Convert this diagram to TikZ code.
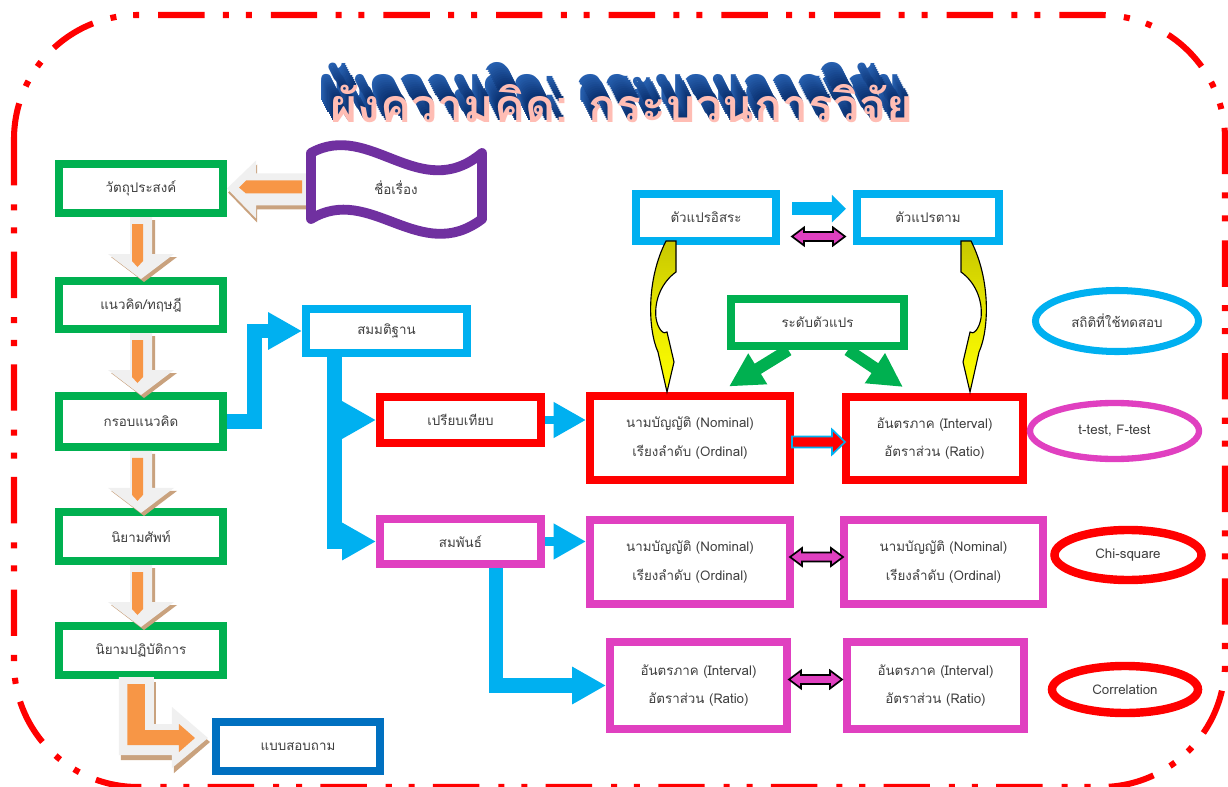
\documentclass[tikz,border=0pt]{standalone}
\usepackage{fontspec}
\setmainfont[Script=Thai]{Loma}
\usetikzlibrary{arrows.meta,shapes.geometric}
\definecolor{grn}{HTML}{00B050}
\definecolor{sky}{HTML}{00B0F0}
\definecolor{rd}{HTML}{FF0000}
\definecolor{mag}{HTML}{E040C0}
\definecolor{pur}{HTML}{7030A0}
\definecolor{navy}{HTML}{0070C0}
\definecolor{org}{HTML}{F79646}
\definecolor{tanc}{HTML}{C9A27E}
\definecolor{lgray}{HTML}{F0F0F0}
\definecolor{olv}{HTML}{C8C800}
\definecolor{txt}{HTML}{3F3F3F}
\definecolor{ttlpink}{HTML}{FFBDB4}
\definecolor{ttlblue}{HTML}{2A66B8}
\definecolor{ttldark}{HTML}{0A2F6E}
\begin{document}
\begin{tikzpicture}[x=0.025cm,y=-0.025cm,
  box/.style={draw,line width=5.7pt,fill=white,inner sep=0pt,text=txt,font=\fontsize{9.5}{20}\selectfont,align=center},
  oval/.style={ellipse,draw,line width=5pt,fill=white,inner sep=0pt,text=txt,font=\fontsize{9.5}{12}\selectfont},
  conn/.style={draw=sky,line width=10.6pt,line join=miter,-{Triangle[length=24pt,width=25pt]}},
  connshort/.style={draw=sky,line width=5.7pt,-{Triangle[length=23pt,width=24pt]}},
  lead/.style={draw=grn,line width=8.5pt,-{Triangle[length=24pt,width=24pt]}},
  ttl/.style={font=\fontsize{33}{36}\selectfont\bfseries,inner sep=0pt},
  dnarr/.pic={
    \fill[tanc] (-8,3) -- (14,3) -- (14,40) -- (36,40) -- (3,65) -- (-30,40) -- (-8,40) -- cycle;
    \fill[lgray] (-11,0) -- (11,0) -- (11,37) -- (33,37) -- (0,62) -- (-33,37) -- (-11,37) -- cycle;
    \fill[org] (-9,7) -- (2,7) -- (2,44) -- (-3.5,50) -- (-9,44) -- cycle;},
  lfarr/.pic={
    \fill[tanc] (1,4) -- (30,-24) -- (30,-11) -- (80,-11) -- (80,21) -- (30,21) -- (30,34) -- cycle;
    \fill[lgray] (0,0) -- (29,-28) -- (29,-15) -- (80,-15) -- (80,17) -- (29,17) -- (29,30) -- cycle;
    \fill[org] (12,-1) -- (19,-8) -- (75,-8) -- (75,5) -- (19,5) -- cycle;},
  lturn/.pic={
    \fill[tanc] (2,5) -- (37,5) -- (37,52) -- (55,52) -- (55,35) -- (91,65) -- (55,96) -- (55,83) -- (2,83) -- cycle;
    \fill[lgray] (0,0) -- (35,0) -- (35,47) -- (53,47) -- (53,30) -- (89,61) -- (53,91) -- (53,78) -- (0,78) -- cycle;
    \fill[org] (8.5,7) -- (26,7) -- (26,53) -- (60,53) -- (60,47) -- (76,61) -- (60,75) -- (60,68) -- (8.5,68) -- cycle;},
  bend/.pic={
    \shadedraw[top color=olv,bottom color=yellow,middle color=olv!40!yellow,draw=black,line width=0.8pt]
      (-5,0) -- (5,0) -- (5,31) .. controls (-9,41) and (-17,59) .. (-15,77)
      .. controls (-13,89) and (-7,94) .. (-4,91) -- (3,121) -- (-4,151) -- (-13,111)
      .. controls (-23,89) and (-25,39) .. (-5,0) -- cycle;},
  dbl/.pic={
    \filldraw[fill=mag,draw=black,line width=1.2pt] (0,0) -- (12,-9) -- (12,-4.5) -- (41,-4.5) -- (41,-9) -- (53,0)
      -- (41,9) -- (41,4.5) -- (12,4.5) -- (12,9) -- cycle;},
  rarr/.pic={
    \filldraw[fill=rd,draw=sky,line width=1.2pt] (0,-5.5) -- (40,-5.5) -- (40,-12.5) -- (53,0) -- (40,12.5) -- (40,5.5) -- (0,5.5) -- cycle;}]
\useasboundingbox (0,0) rectangle (1228,787);
\fill[white] (0,0) rectangle (1228,787);
\draw[rd,line width=4.3pt,rounded corners=3.1cm,dash pattern=on 33pt off 13.5pt on 4.3pt off 12pt on 4.3pt off 13pt] (14,15) rectangle (1225,787);

\foreach \d [evaluate=\d as \p using int(4*\d)] in {22,20,...,2}
  \node[ttl,text=ttlblue!\p!ttldark] at (622-0.55*\d,104-\d) {ผังความคิด: กระบวนการวิจัย};
\node[ttl,text=ttlpink] (head) at (622,104) {ผังความคิด: กระบวนการวิจัย};

\foreach \n/\y/\h/\t in {obj/188.5/1.225/{วัตถุประสงค์},theory/305/1.2/{แนวคิด/ทฤษฎี},frame/421.5/1.27/{กรอบแนวคิด},term/536.5/1.225/{นิยามศัพท์},opdef/650.5/1.225/{นิยามปฏิบัติการ}}
  \node[box,draw=grn,minimum width=4.1cm,minimum height=\h cm] (\n) at (141,\y) {\t};
\node[box,draw=navy,minimum width=4.1cm,minimum height=1.225cm] (quest) at (298,746.5) {แบบสอบถาม};
\node[box,draw=sky,minimum width=4.025cm,minimum height=1.1cm] (hypo) at (386.5,331) {สมมติฐาน};
\node[box,draw=rd,minimum width=4.025cm,minimum height=1.15cm] (comp) at (460.5,420) {เปรียบเทียบ};
\node[box,draw=mag,minimum width=4.025cm,minimum height=1.125cm] (rel) at (460.5,541.5) {สมพันธ์};
\node[box,draw=sky,minimum width=3.5cm,minimum height=1.175cm] (indep) at (706,217.5) {ตัวแปรอิสระ};
\node[box,draw=sky,minimum width=3.55cm,minimum height=1.175cm] (dep) at (928,217.5) {ตัวแปรตาม};
\node[box,draw=grn,minimum width=4.325cm,minimum height=1.175cm] (level) at (817.5,322.5) {ระดับตัวแปร};
\node[box,draw=rd,minimum width=5cm,minimum height=2.075cm] (nomA) at (690,438) {นามบัญญัติ (Nominal)\\เรียงลำดับ (Ordinal)};
\node[box,draw=rd,minimum width=4.425cm,minimum height=2.075cm] (intA) at (934.5,438.5) {อันตรภาค (Interval)\\อัตราส่วน (Ratio)};
\node[box,draw=mag,minimum width=5cm,minimum height=2.1cm] (nomB) at (690,562) {นามบัญญัติ (Nominal)\\เรียงลำดับ (Ordinal)};
\node[box,draw=mag,minimum width=4.975cm,minimum height=2.1cm] (nomC) at (943.5,562) {นามบัญญัติ (Nominal)\\เรียงลำดับ (Ordinal)};
\node[box,draw=mag,minimum width=4.425cm,minimum height=2.175cm] (intB) at (698.5,685.5) {อันตรภาค (Interval)\\อัตราส่วน (Ratio)};
\node[box,draw=mag,minimum width=4.425cm,minimum height=2.175cm] (intC) at (935.5,685.5) {อันตรภาค (Interval)\\อัตราส่วน (Ratio)};

\node[oval,draw=sky,minimum width=4.075cm,minimum height=1.525cm] (st) at (1117,321) {สถิติที่ใช้ทดสอบ};
\node[oval,draw=mag,line width=4.5pt,minimum width=4.225cm,minimum height=1.4cm] (tt) at (1114.5,431) {t-test, F-test};
\node[oval,draw=rd,line width=6pt,minimum width=3.675cm,minimum height=1.25cm] (chi) at (1128,555) {Chi-square};
\node[oval,draw=rd,line width=6pt,minimum width=3.65cm,minimum height=1.175cm] (cor) at (1125,689.5) {Correlation};

\foreach \a in {obj,theory,frame,term}
  \pic at (\a.south) {dnarr};
\pic at ([xshift=1.6cm,yshift=0.05cm]opdef.south west) {lturn};
\pic at (obj.east) {lfarr};

\filldraw[draw=pur,fill=white,line width=7pt,line join=round] (311,153) .. controls (370,120) and (420,205) .. (482,153)
  -- (482,219) .. controls (420,266) and (370,183) .. (311,219) -- cycle;
\node[text=txt,font=\fontsize{9.5}{12}\selectfont] (topic) at (396,188) {ชื่อเรื่อง};

\draw[conn] (frame.east) -- ++(27.5,0) |- (hypo.west);
\coordinate (hbar) at ([xshift=0.81cm]hypo.south west);
\draw[conn] (hbar) |- (rel.west);
\draw[conn] (hbar |- comp.west) -- (comp.west);
\draw[connshort] (comp.east) -- (comp.east -| nomA.west);
\draw[connshort] (rel.east) -- (rel.east -| nomB.west);
\coordinate (rbar) at ([xshift=3cm]rel.south west);
\draw[conn] (rbar) |- (intB.west);

\draw[draw=sky,line width=9.2pt,shorten <=0.3cm,shorten >=0.175cm,-{Triangle[length=10pt,width=19pt]}] ([yshift=0.22cm]indep.east) -- ([yshift=0.22cm]dep.west);
\pic at ([xshift=0.3cm,yshift=-0.475cm]indep.east) {dbl};
\pic at ([xshift=-0.1cm,yshift=0.125cm]nomB.east) {dbl};
\pic at ([xshift=-0.05cm,yshift=0.15cm]intB.east) {dbl};
\pic at ([xshift=-0.05cm,yshift=-0.1cm]nomA.east) {rarr};

\draw[lead] ([xshift=-0.73cm]level.south) -- ([xshift=0.975cm,yshift=0.15cm]nomA.north);
\draw[lead] ([xshift=0.76cm]level.south) -- ([xshift=-0.79cm,yshift=0.15cm]intA.north);
\pic at ([xshift=-0.875cm,yshift=0.1cm]indep.south) {bend};
\pic[xscale=-1] at ([xshift=0.95cm,yshift=0.1cm]dep.south) {bend};
\end{tikzpicture}
\end{document}
